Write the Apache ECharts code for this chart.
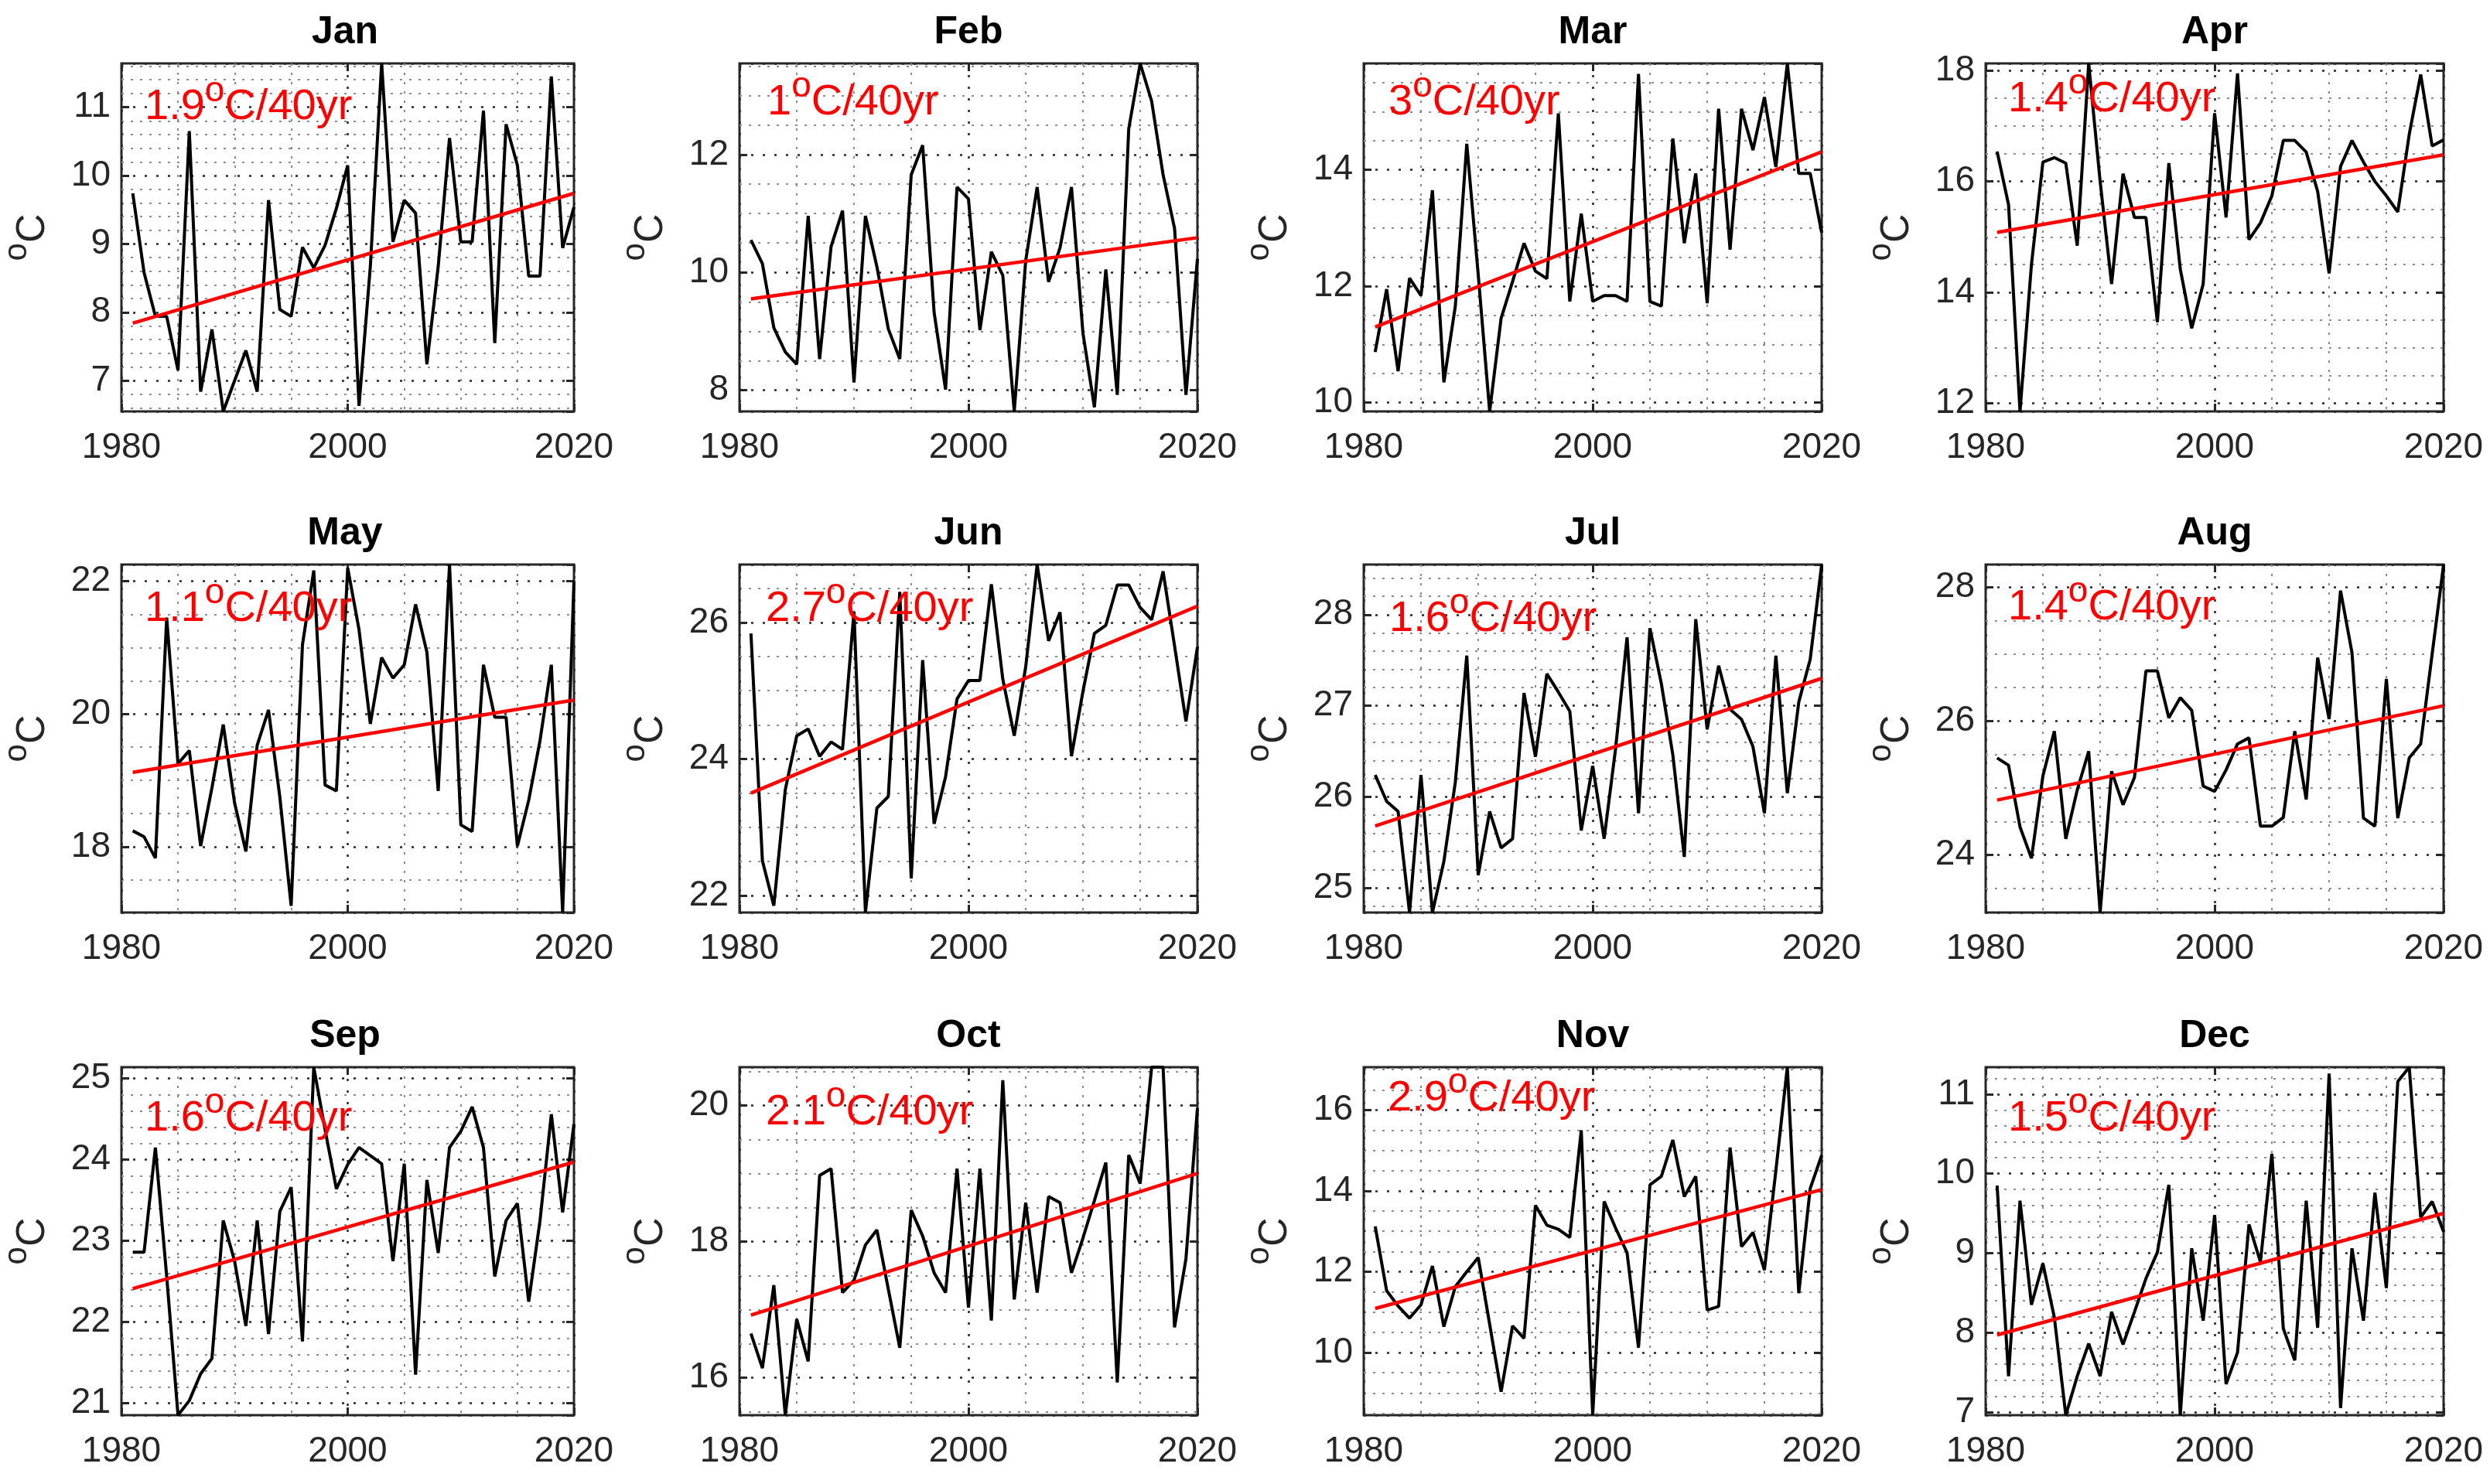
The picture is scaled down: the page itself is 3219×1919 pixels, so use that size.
<!DOCTYPE html>
<html>
<head>
<meta charset="utf-8">
<title>Monthly temperature trends 1981-2020</title>
<script src="https://cdn.jsdelivr.net/npm/echarts@6/dist/echarts.min.js"></script>
<style>
  html, body { margin: 0; padding: 0; background: #fff; }
  #chart { width: 3219px; height: 1919px; }
</style>
</head>
<body>
<div id="chart"></div>
<script>
// ==============================================================
// data, 1981-2020
// ==============================================================
var years = [];
for (var y = 1981; y <= 2020; y++) years.push(y);

var months = ['Jan', 'Feb', 'Mar', 'Apr', 'May', 'Jun', 'Jul', 'Aug', 'Sep', 'Oct', 'Nov', 'Dec'];

var jan = [9.74, 8.58, 7.94, 7.94, 7.15, 10.65, 6.84, 7.75, 6.55, 7.0, 7.44, 6.84, 9.64, 8.04, 7.94, 8.95, 8.65, 8.98, 9.52, 10.15,
  6.63, 8.67, 11.64, 9.03, 9.64, 9.45, 7.24, 8.67, 10.55, 9.03, 9.03, 10.95, 7.55, 10.75, 10.15, 8.53, 8.53, 11.45, 8.94, 9.54];
var feb = [10.55, 10.15, 9.06, 8.65, 8.44, 10.96, 8.53, 10.44, 11.05, 8.13, 10.96, 10.1, 9.04, 8.53, 11.66, 12.16, 9.32, 8.01, 11.45, 11.25,
  9.02, 10.35, 9.95, 7.64, 10.2, 11.45, 9.84, 10.42, 11.45, 8.97, 7.71, 10.05, 7.92, 12.44, 13.55, 12.91, 11.66, 10.75, 7.92, 10.23];
var mar = [10.87, 11.95, 10.54, 12.14, 11.84, 13.65, 10.35, 11.66, 14.45, 12.2, 9.85, 11.45, 12.08, 12.74, 12.26, 12.13, 14.97, 11.74, 13.25, 11.74,
  11.84, 11.84, 11.74, 15.65, 11.74, 11.66, 14.54, 12.74, 13.94, 11.71, 15.05, 12.63, 15.05, 14.34, 15.25, 14.05, 15.83, 13.94, 13.94, 12.92];
var apr = [16.54, 15.58, 11.85, 14.5, 16.35, 16.43, 16.33, 14.84, 18.13, 16.0, 14.15, 16.14, 15.35, 15.35, 13.46, 16.33, 14.42, 13.35, 14.15, 17.23,
  15.35, 17.95, 14.95, 15.25, 15.74, 16.74, 16.74, 16.53, 15.82, 14.34, 16.27, 16.74, 16.35, 16.0, 15.74, 15.45, 16.85, 17.93, 16.64, 16.75];
var may = [18.24, 18.15, 17.83, 21.45, 19.25, 19.45, 18.01, 18.89, 19.84, 18.66, 17.93, 19.53, 20.06, 18.75, 17.11, 21.04, 22.16, 18.93, 18.84, 22.2,
  21.27, 19.85, 20.85, 20.54, 20.74, 21.65, 20.93, 18.84, 22.25, 18.33, 18.23, 20.74, 19.95, 19.95, 18.01, 18.7, 19.6, 20.74, 17.01, 22.0];
var jun = [25.84, 22.51, 21.85, 23.55, 24.34, 24.44, 24.04, 24.25, 24.14, 26.16, 21.75, 23.28, 23.45, 26.45, 22.25, 25.45, 23.05, 23.74, 24.88, 25.15,
  25.15, 26.56, 25.17, 24.34, 25.35, 26.85, 25.73, 26.15, 24.04, 24.99, 25.84, 25.96, 26.55, 26.55, 26.22, 26.04, 26.75, 25.66, 24.55, 25.64];
var jul = [26.24, 25.95, 25.84, 24.73, 26.24, 24.73, 25.29, 26.16, 27.55, 25.14, 25.84, 25.44, 25.54, 27.14, 26.44, 27.35, 27.15, 26.94, 25.63, 26.34,
  25.54, 26.53, 27.75, 25.82, 27.85, 27.24, 26.46, 25.34, 27.95, 26.74, 27.44, 26.96, 26.85, 26.55, 25.82, 27.55, 26.04, 27.04, 27.51, 28.55];
var aug = [25.45, 25.34, 24.42, 23.95, 25.18, 25.85, 24.24, 24.97, 25.55, 23.14, 25.25, 24.75, 25.16, 26.75, 26.75, 26.05, 26.35, 26.16, 25.03, 24.95,
  25.27, 25.66, 25.75, 24.43, 24.43, 24.56, 25.85, 24.83, 26.95, 26.03, 27.95, 27.02, 24.55, 24.43, 26.63, 24.55, 25.45, 25.66, 27.0, 28.34];
var sep = [22.86, 22.86, 24.15, 22.56, 20.85, 21.03, 21.36, 21.55, 23.25, 22.75, 21.95, 23.25, 21.85, 23.36, 23.66, 21.76, 25.14, 24.37, 23.64, 23.94,
  24.15, 24.05, 23.95, 22.75, 23.95, 21.35, 23.75, 22.85, 24.15, 24.35, 24.65, 24.15, 22.56, 23.25, 23.46, 22.25, 23.25, 24.56, 23.35, 24.44];
var oct = [16.65, 16.14, 17.36, 15.45, 16.86, 16.24, 18.97, 19.07, 17.25, 17.43, 17.95, 18.17, 17.3, 16.44, 18.46, 18.08, 17.54, 17.25, 19.07, 17.03,
  19.07, 16.84, 20.37, 17.15, 18.57, 17.25, 18.66, 18.57, 17.54, 18.05, 18.6, 19.16, 15.93, 19.27, 18.85, 20.56, 20.56, 16.74, 17.75, 19.96];
var nov = [13.12, 11.53, 11.15, 10.85, 11.18, 12.14, 10.64, 11.63, 12.0, 12.35, 10.7, 9.03, 10.66, 10.35, 13.64, 13.15, 13.05, 12.85, 15.5, 8.45,
  13.74, 13.08, 12.47, 10.12, 14.15, 14.36, 15.26, 13.86, 14.36, 11.05, 11.14, 15.07, 12.62, 12.97, 12.04, 14.5, 17.06, 11.47, 14.06, 14.88];
var dec = [9.85, 7.45, 9.66, 8.35, 8.87, 8.19, 6.96, 7.45, 7.86, 7.45, 8.26, 7.85, 8.26, 8.68, 9.01, 9.86, 6.96, 9.06, 8.15, 9.48,
  7.35, 7.75, 9.36, 8.89, 10.25, 8.05, 7.65, 9.66, 8.06, 11.26, 7.05, 9.06, 8.15, 9.76, 8.56, 11.16, 11.34, 9.45, 9.65, 9.27];

// linear trend, value at 1981 and at 2020
var trendStart = [7.84, 9.55, 11.30, 15.08, 19.12, 23.50, 25.68, 24.82, 22.41, 16.92, 11.09, 7.97];
var trendEnd   = [9.74, 10.59, 14.31, 16.48, 20.21, 26.24, 27.30, 26.23, 23.97, 19.00, 14.03, 9.50];
var trendText  = ['1.9', '1', '3', '1.4', '1.1', '2.7', '1.6', '1.4', '1.6', '2.1', '2.9', '1.5'];

// y tick step of each panel
var yStep = [1, 2, 2, 2, 2, 2, 1, 2, 1, 2, 2, 1];
var xTicks = [1980, 2000, 2020];

var panels = [jan, feb, mar, apr, may, jun, jul, aug, sep, oct, nov, dec];

// ==============================================================
// layout
// ==============================================================
var colLeft = [150, 956, 1763, 2567];
var rowTop = [82, 730, 1380];
var plotW = 592, plotH = 450;
var noteDx = [37, 36, 32, 29, 37, 34, 33, 29, 37, 34, 31, 29];
var noteDy = [37, 31, 31, 27, 38, 38, 51, 36, 47, 39, 21, 47];

var FONT = '"Liberation Sans", Arial, Helvetica, sans-serif';
var INK = '#262626';

var majorLine = { color: '#262626', width: 2.5, type: [3, 12] };
var minorLine = { color: '#8c8c8c', width: 2, type: [3, 9] };

var grids = [], xAxes = [], yAxes = [], series = [], graphics = [];

panels.forEach(function (vals, i) {
  var col = i % 4, row = Math.floor(i / 4);
  var left = colLeft[col], top = rowTop[row];
  var lo = Math.min.apply(null, vals), hi = Math.max.apply(null, vals);

  grids.push({
    left: left, top: top, width: plotW, height: plotH,
    show: true, borderColor: INK, borderWidth: 3, backgroundColor: '#fff'
  });

  // bottom x axis
  xAxes.push({
    gridIndex: i, type: 'value', min: xTicks[0], max: xTicks[2], interval: 20,
    axisLine: { show: false },
    axisTick: { show: true, inside: true, length: 10, lineStyle: { color: INK, width: 3 } },
    axisLabel: {
      color: INK, fontSize: 46, fontFamily: FONT, margin: 24,
      formatter: function (v) { return String(v); }
    },
    splitLine: { show: true, lineStyle: majorLine },
    minorTick: { show: false, splitNumber: 4 },
    minorSplitLine: { show: true, lineStyle: minorLine }
  });
  // top x axis (ticks only)
  xAxes.push({
    gridIndex: i, type: 'value', position: 'top', min: xTicks[0], max: xTicks[2], interval: 20,
    axisLine: { show: false },
    axisTick: { show: true, inside: true, length: 10, lineStyle: { color: INK, width: 3 } },
    axisLabel: { show: false }, splitLine: { show: false }
  });

  var yBase = {
    gridIndex: i, type: 'value', min: lo, max: hi,
    minInterval: yStep[i], maxInterval: yStep[i],
    axisLine: { show: false },
    axisTick: { show: true, inside: true, length: 10, lineStyle: { color: INK, width: 3 } }
  };
  yAxes.push(Object.assign({}, yBase, {
    position: 'left',
    axisLabel: { color: INK, fontSize: 46, fontFamily: FONT, margin: 14, showMinLabel: false, showMaxLabel: false },
    splitLine: { show: true, lineStyle: majorLine },
    minorTick: { show: false, splitNumber: yStep[i] === 1 ? 5 : 4 },
    minorSplitLine: { show: true, lineStyle: minorLine },
    name: '{s|o}{c|C}',
    nameLocation: 'middle',
    nameGap: 72,
    nameRotate: 90,
    nameTextStyle: {
      fontFamily: FONT, color: INK,
      rich: {
        s: { fontSize: 42, fontFamily: FONT, color: INK, verticalAlign: 'top', lineHeight: 46 },
        c: { fontSize: 52, fontFamily: FONT, color: INK, lineHeight: 84 }
      }
    }
  }));
  yAxes.push(Object.assign({}, yBase, {
    position: 'right',
    axisLabel: { show: false }, splitLine: { show: false }
  }));

  series.push({
    type: 'line', xAxisIndex: 2 * i, yAxisIndex: 2 * i,
    data: years.map(function (yr, k) { return [yr, vals[k]]; }),
    showSymbol: false, symbol: 'none', silent: true,
    lineStyle: { color: '#000', width: 4 }, z: 3
  });
  series.push({
    type: 'line', xAxisIndex: 2 * i, yAxisIndex: 2 * i,
    data: [[years[0], trendStart[i]], [years[years.length - 1], trendEnd[i]]],
    showSymbol: false, symbol: 'none', silent: true,
    lineStyle: { color: '#ff0000', width: 4.5 }, z: 4
  });

  // month title
  graphics.push({
    type: 'text', x: left + plotW / 2, y: top - 40, z: 10,
    style: { text: months[i], fill: '#000', fontSize: 50, fontWeight: 'bold', fontFamily: FONT, align: 'center', verticalAlign: 'middle' }
  });
  // trend note
  graphics.push({
    type: 'text', x: left + noteDx[i], y: top + noteDy[i] - 24, z: 10,
    style: {
      text: '{n|' + trendText[i] + '}{s|o}{n|C/40yr}',
      align: 'left', verticalAlign: 'top',
      rich: {
        n: { fontSize: 56, fontFamily: FONT, fill: '#ff0000', lineHeight: 88 },
        s: { fontSize: 46, fontFamily: FONT, fill: '#ff0000', lineHeight: 34, verticalAlign: 'top' }
      }
    }
  });
});

var chart = echarts.init(document.getElementById('chart'));
var option = {
  backgroundColor: '#fff',
  animation: false,
  grid: grids,
  xAxis: xAxes,
  yAxis: yAxes,
  series: series,
  graphic: graphics
};
chart.setOption(option, true);
</script>
</body>
</html>
